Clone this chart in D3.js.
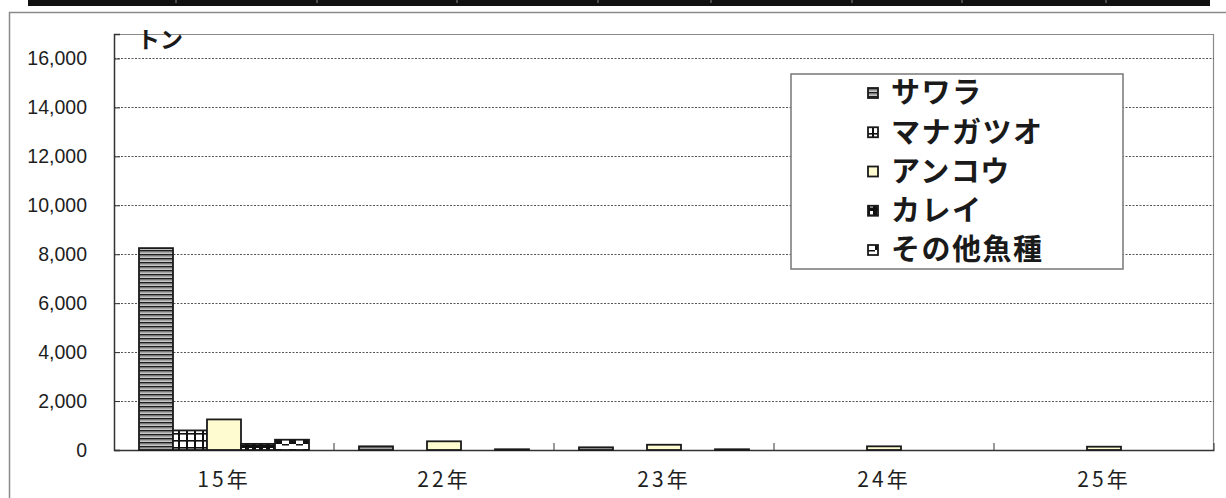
<!DOCTYPE html>
<html>
<head>
<meta charset="utf-8">
<script src="https://cdn.jsdelivr.net/npm/d3@7"></script>
<style>
  body { margin: 0; background: #fff; }
  svg { display: block; }
</style>
</head>
<body>
<div id="chart"></div>
<script>
// data
const years = ["15年", "22年", "23年", "24年", "25年"];
const species = ["サワラ", "マナガツオ", "アンコウ", "カレイ", "その他魚種"];
const sawara = [8250, 150, 110, 0, 0];
const managa = [800, 0, 0, 0, 0];
const ankou = [1250, 355, 215, 150, 135];
const karei = [250, 0, 0, 0, 0];
const sonota = [420, 30, 30, 0, 0];
const yTicks = [0, 2000, 4000, 6000, 8000, 10000, 12000, 14000, 16000];
const unitLabel = "トン";

const seriesValues = [sawara, managa, ankou, karei, sonota];

const W = 1226, H = 498;
const margin = { top: 34, right: 12, bottom: 48, left: 114 };
const width = W - margin.left - margin.right;
const height = H - margin.top - margin.bottom;

const svg = d3.select("#chart").append("svg")
  .attr("width", W)
  .attr("height", H);

// patterns
const defs = svg.append("defs");
const pSawara = defs.append("pattern").attr("id", "p0")
  .attr("patternUnits", "userSpaceOnUse").attr("width", 8).attr("height", 4);
pSawara.append("rect").attr("width", 8).attr("height", 4).attr("fill", "#fff");
pSawara.append("rect").attr("y", 0).attr("width", 8).attr("height", 1.6).attr("fill", "#1e1e1e");
pSawara.append("rect").attr("y", 2.2).attr("width", 8).attr("height", 1.3).attr("fill", "#8e8e8e");

const pManaga = defs.append("pattern").attr("id", "p1")
  .attr("patternUnits", "userSpaceOnUse").attr("width", 8).attr("height", 7);
pManaga.append("rect").attr("width", 8).attr("height", 7).attr("fill", "#fff");
pManaga.append("rect").attr("x", 0).attr("width", 2).attr("height", 7).attr("fill", "#111");
pManaga.append("rect").attr("y", 0).attr("width", 8).attr("height", 1.6).attr("fill", "#111");

const pKarei = defs.append("pattern").attr("id", "p3")
  .attr("patternUnits", "userSpaceOnUse").attr("width", 7).attr("height", 7);
pKarei.append("rect").attr("width", 7).attr("height", 7).attr("fill", "#111");
pKarei.append("rect").attr("x", 2).attr("y", 1).attr("width", 3).attr("height", 3.5).attr("fill", "#fff");

const pSonota = defs.append("pattern").attr("id", "p4")
  .attr("patternUnits", "userSpaceOnUse").attr("width", 14).attr("height", 10);
pSonota.append("rect").attr("width", 14).attr("height", 10).attr("fill", "#fff");
pSonota.append("rect").attr("x", 7).attr("y", 5).attr("width", 7).attr("height", 5).attr("fill", "#111");
pSonota.append("rect").attr("x", 0).attr("y", 0).attr("width", 7).attr("height", 1.5).attr("fill", "#111");

const fills = ["url(#p0)", "url(#p1)", "#fffbd0", "url(#p3)", "url(#p4)"];

// table edge on top of the page
const tableCols = [176, 317, 457, 598, 711, 852, 962, 1106];
svg.append("rect").attr("x", 28).attr("y", 0).attr("width", 1182).attr("height", 6).attr("fill", "#111");
svg.selectAll(".tcol").data(tableCols).enter().append("line")
  .attr("x1", d => d).attr("x2", d => d).attr("y1", 0).attr("y2", 3)
  .attr("stroke", "#888").attr("stroke-width", 1);

// outer chart frame
svg.append("path")
  .attr("d", `M9.5,${H}V12.5H${W}`)
  .attr("fill", "none").attr("stroke", "#8a8a8a").attr("stroke-width", 1.5);

const g = svg.append("g").attr("transform", `translate(${margin.left},${margin.top})`);

const x = d3.scaleBand().domain(years).range([0, width]).padding(0);
const x1 = d3.scaleBand().domain(species).range([0, x.bandwidth()])
  .paddingInner(0).paddingOuter(0.735);
const y = d3.scaleLinear().domain([0, 17000]).range([height, 0]);

// plot border (top and right)
g.append("path")
  .attr("d", `M0,0.5H${width - 0.5}V${height}`)
  .attr("fill", "none").attr("stroke", "#8a8a8a").attr("stroke-width", 1.2);

// grid
g.selectAll(".grid").data(yTicks.filter(d => d > 0)).enter().append("line")
  .attr("x1", 0).attr("x2", width)
  .attr("y1", d => Math.round(y(d)) + 0.5).attr("y2", d => Math.round(y(d)) + 0.5)
  .attr("stroke", "#555").attr("stroke-width", 1).attr("stroke-dasharray", "2,1.5");

// y axis
const yAxis = g.append("g")
  .call(d3.axisLeft(y).tickValues(yTicks).tickFormat(d3.format(",")).tickSize(-6).tickPadding(27));
yAxis.select(".domain").attr("stroke", "#333").attr("stroke-width", 1.5);
yAxis.selectAll(".tick line").attr("stroke", "#333");
yAxis.selectAll("text")
  .attr("font-family", "'Liberation Sans', Arial, sans-serif")
  .attr("font-size", 19.5).attr("fill", "#1e1e1e");

// x axis
const xAxis = g.append("g").attr("transform", `translate(0,${height})`)
  .call(d3.axisBottom(x).tickSize(0).tickPadding(20));
xAxis.select(".domain").attr("stroke", "#333").attr("stroke-width", 1.5);
xAxis.selectAll("text")
  .attr("font-family", "'Noto Sans CJK JP', sans-serif")
  .attr("font-size", 21).attr("fill", "#1e1e1e")
  .attr("letter-spacing", 3)
  .attr("dy", "0.8em");

// category separators
g.selectAll(".sep").data(years.slice(1).concat(["end"])).enter().append("line")
  .attr("x1", (d, i) => x.step() * (i + 1)).attr("x2", (d, i) => x.step() * (i + 1))
  .attr("y1", height - 7).attr("y2", height)
  .attr("stroke", "#333").attr("stroke-width", 1);

// bars
species.forEach((s, si) => {
  const data = years.map((yr, i) => ({ yr, v: seriesValues[si][i] })).filter(d => d.v > 0);
  g.selectAll(".bar" + si).data(data).enter().append("rect")
    .attr("x", d => x(d.yr) + x1(s))
    .attr("y", d => y(d.v))
    .attr("width", x1.bandwidth())
    .attr("height", d => height - y(d.v))
    .attr("fill", fills[si])
    .attr("stroke", "#1a1a1a")
    .attr("stroke-width", 1.8);
});

// unit label
svg.append("text")
  .attr("x", 137).attr("y", 48)
  .attr("font-family", "'Noto Sans CJK JP', sans-serif")
  .attr("font-weight", "bold").attr("font-size", 23).attr("fill", "#1a1a1a")
  .text(unitLabel);

// legend
const legend = svg.append("g");
legend.append("rect")
  .attr("x", 791).attr("y", 74).attr("width", 332).attr("height", 195)
  .attr("fill", "#fff").attr("stroke", "#777").attr("stroke-width", 1.5);
const rowY = d3.scalePoint().domain(species).range([93, 250]);
species.forEach((s, si) => {
  legend.append("rect")
    .attr("x", 868).attr("y", rowY(s) - 5).attr("width", 10).attr("height", 10)
    .attr("fill", fills[si]).attr("stroke", "#1a1a1a").attr("stroke-width", 1.8);
  legend.append("text")
    .attr("x", 891).attr("y", rowY(s)).attr("dy", "0.36em")
    .attr("font-family", "'Noto Sans CJK JP', sans-serif")
    .attr("font-weight", "bold").attr("font-size", 29).attr("fill", "#1a1a1a")
    .attr("letter-spacing", 1.5)
    .text(s);
});
</script>
</body>
</html>
